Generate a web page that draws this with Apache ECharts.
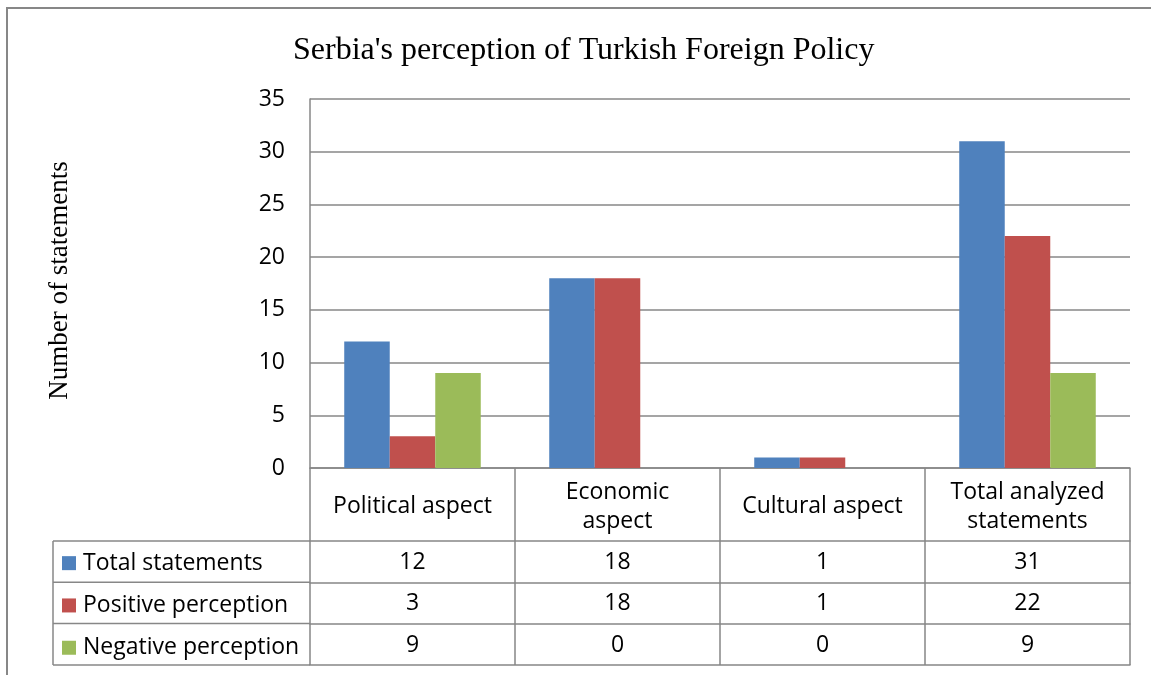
<!DOCTYPE html>
<html>
<head>
<meta charset="utf-8">
<title>Serbia's perception of Turkish Foreign Policy</title>
<script src="https://cdn.jsdelivr.net/npm/echarts@6/dist/echarts.min.js"></script>
<style>
  html, body { margin: 0; padding: 0; background: #fff; }
  #chart { width: 1151px; height: 675px; }
</style>
</head>
<body>
<div id="chart"></div>
<script>
// data
const categories = ['Political aspect', 'Economic\naspect', 'Cultural aspect', 'Total analyzed\nstatements']
const seriesNames = ['Total statements', 'Positive perception', 'Negative perception']
const totalStatements = [12, 18, 1, 31]
const positivePerception = [3, 18, 1, 22]
const negativePerception = [9, 0, 0, 9]
const yTicks = [0, 5, 10, 15, 20, 25, 30, 35]

const colors = ['#4F81BD', '#C0504D', '#9BBB59']
const lineGrey = '#878787'
const sans = '"Open Sans", Lato, sans-serif'
const serif = '"Liberation Serif", "DejaVu Serif", serif'
const fs = 23

const rows = [totalStatements, positivePerception, negativePerception]

// table geometry (px)
const gridLeft = 310
const gridRight = 21
const gridTop = 99
const axisY = 468
const headerH = 73
const rowH = 41.3
const tableLeft = 53

const chart = echarts.init(document.getElementById('chart'))

// one extra category axis per table row, labels = the row values
const rowAxes = rows.map((vals, i) => ({
  type: 'category',
  position: 'bottom',
  offset: headerH + rowH * i,
  data: vals.map(String),
  axisLine: { show: true, lineStyle: { color: lineGrey, width: 1.5 } },
  axisTick: { show: false },
  axisLabel: {
    interval: 0,
    margin: rowH / 2 + 1,
    verticalAlign: 'middle',
    color: '#000',
    fontFamily: sans,
    fontSize: fs
  }
}))

// bottom line of the table
rowAxes.push({
  type: 'category',
  position: 'bottom',
  offset: headerH + rowH * 3,
  data: categories,
  axisLine: { show: true, lineStyle: { color: lineGrey, width: 1.5 } },
  axisTick: { show: false },
  axisLabel: { show: false }
})

const tableBottom = axisY + headerH + rowH * 3

const leftLines = []
for (let i = 0; i <= 3; i++) {
  const y = axisY + headerH + rowH * i
  leftLines.push({
    type: 'line',
    shape: { x1: tableLeft, y1: y, x2: gridLeft, y2: y },
    style: { stroke: lineGrey, lineWidth: 1.5 }
  })
}
leftLines.push({
  type: 'line',
  shape: { x1: tableLeft, y1: axisY + headerH, x2: tableLeft, y2: tableBottom },
  style: { stroke: lineGrey, lineWidth: 1.5 }
})

const option = {
  animation: false,
  color: colors,
  title: {
    text: "Serbia's perception of Turkish Foreign Policy",
    left: 293,
    top: 35,
    padding: 0,
    textStyle: { fontFamily: serif, fontWeight: 'normal', fontSize: 32, color: '#000' }
  },
  legend: {
    orient: 'vertical',
    left: 62,
    top: axisY + headerH + rowH / 2 - 10,
    padding: 0,
    itemWidth: 14,
    itemHeight: 14,
    itemGap: rowH - 22,
    icon: 'rect',
    data: seriesNames,
    textStyle: { fontFamily: sans, fontSize: fs, color: '#000', lineHeight: 22, padding: [0, 0, 0, 2] }
  },
  grid: {
    left: gridLeft,
    right: gridRight,
    top: gridTop,
    bottom: 675 - axisY
  },
  xAxis: [{
    type: 'category',
    data: categories,
    axisLine: { show: true, lineStyle: { color: lineGrey, width: 1.5 } },
    axisTick: { show: true, interval: 0, length: tableBottom - axisY, lineStyle: { color: lineGrey, width: 1.5 } },
    axisLabel: {
      interval: 0,
      margin: headerH / 2 + 2,
      verticalAlign: 'middle',
      align: 'center',
      color: '#000',
      fontFamily: sans,
      fontSize: fs,
      lineHeight: 29
    }
  }].concat(rowAxes),
  yAxis: {
    type: 'value',
    min: yTicks[0],
    max: yTicks[yTicks.length - 1],
    interval: 5,
    name: 'Number of statements',
    nameLocation: 'middle',
    nameRotate: 90,
    nameGap: 237,
    nameTextStyle: { fontFamily: serif, fontSize: 27, color: '#000', padding: [0, 0, 0, 6] },
    axisLine: { show: true, lineStyle: { color: lineGrey, width: 1.5 } },
    axisTick: { show: false },
    axisLabel: { margin: 25, color: '#000', fontFamily: sans, fontSize: fs },
    splitLine: { lineStyle: { color: lineGrey, width: 1.5 } }
  },
  series: [
    { name: seriesNames[0], type: 'bar', data: totalStatements, barGap: '0%', barCategoryGap: '33.4%' },
    { name: seriesNames[1], type: 'bar', data: positivePerception },
    { name: seriesNames[2], type: 'bar', data: negativePerception }
  ],
  graphic: [{
    type: 'rect',
    shape: { x: 7, y: 8, width: 1170, height: 700 },
    style: { fill: 'none', stroke: lineGrey, lineWidth: 2 }
  }].concat(leftLines)
}

chart.setOption(option)
</script>
</body>
</html>
